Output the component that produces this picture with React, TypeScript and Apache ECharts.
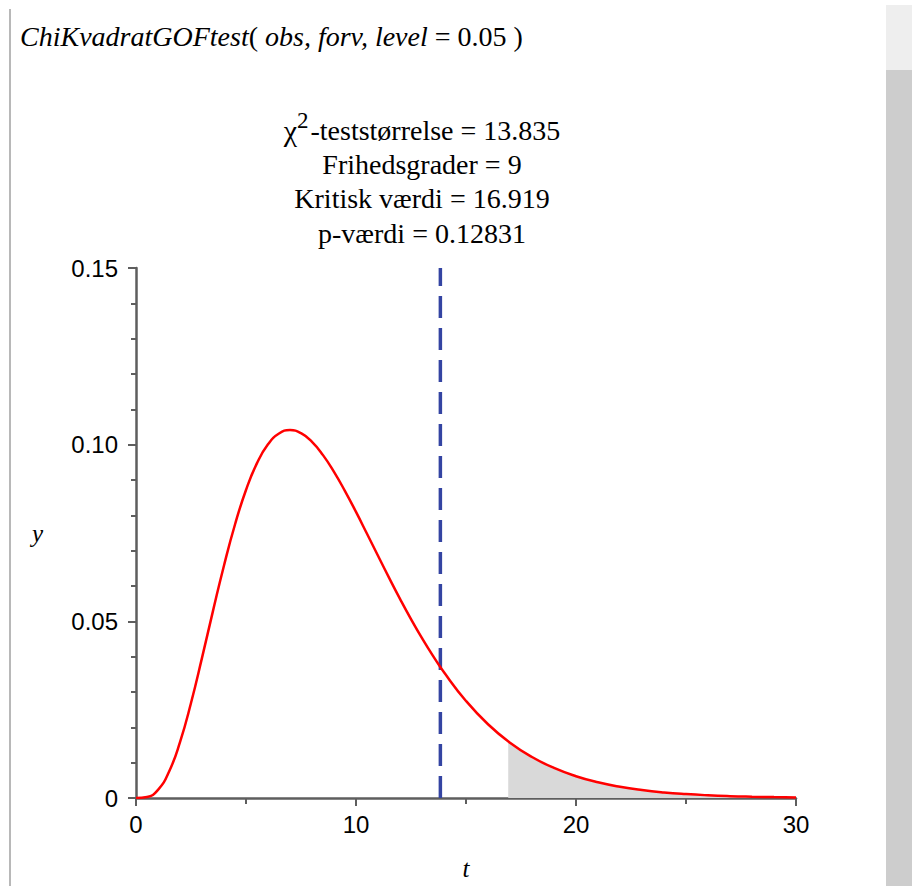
import React, { useEffect, useRef } from "react";
import * as echarts from "echarts";

// Chi-square density (df = 9)
const tValues = [0, 0.5, 1, 1.5, 2, 2.5, 3, 3.5, 4, 4.5, 5, 5.5, 6, 6.5, 7, 7.5, 8, 8.5, 9, 9.5, 10, 10.5, 11, 11.5, 12, 12.5, 13, 13.5, 14, 15, 16, 17, 18, 19, 20, 21, 22, 23, 24, 25, 26, 27, 28, 29, 30];
const densityValues = [0, 0.00026, 0.0023, 0.00742, 0.01581, 0.02689, 0.03965, 0.05296, 0.06582, 0.07741, 0.08717, 0.09477, 0.10009, 0.10315, 0.10412, 0.10324, 0.10078, 0.09704, 0.09231, 0.08686, 0.08096, 0.07479, 0.06855, 0.06237, 0.05638, 0.05065, 0.04525, 0.04022, 0.03557, 0.02747, 0.02088, 0.01566, 0.0116, 0.0085, 0.00617, 0.00444, 0.00317, 0.00225, 0.00158, 0.00111, 0.00077, 0.00053, 0.00037, 0.00025, 0.00017];

// Rejection region (shaded tail)
const tailT = [16.919, 17, 18, 19, 20, 21, 22, 23, 24, 25, 26, 27, 28, 29, 30];
const tailDensity = [0.01604, 0.01566, 0.0116, 0.0085, 0.00617, 0.00444, 0.00317, 0.00225, 0.00158, 0.00111, 0.00077, 0.00053, 0.00037, 0.00025, 0.00017];

const testStatistic = 13.835;
const statLineY = [0, 0.15];

const xTickLabels: Record<string, string> = { "0": "0", "10": "10", "20": "20", "30": "30" };
const yTickLabels: Record<string, string> = { "0": "0", "0.05": "0.05", "0.1": "0.10", "0.15": "0.15" };

const titleLine1 = "{chi|χ}{sup|2}{n|-teststørrelse = 13.835}";
const titleLines = ["Frihedsgrader = 9", "Kritisk værdi = 16.919", "p-værdi = 0.12831"];
const commandText = "{i|ChiKvadratGOFtest}{n|( }{i|obs, forv, level}{n| = 0.05 )}";

export default function App() {
  const ref = useRef<HTMLDivElement>(null);
  useEffect(() => {
    if (!ref.current) return;
    const chart = echarts.init(ref.current, undefined, { renderer: "svg" });
    const serif = "'Liberation Serif', 'Times New Roman', serif";
    const sans = "'Liberation Sans', Arial, sans-serif";
    const axisColor = "#5e5e5e";
    chart.setOption({
      animation: false,
      backgroundColor: "#ffffff",
      grid: { left: 136, right: 116, top: 268, bottom: 87 },
      xAxis: {
        type: "value",
        min: 0,
        max: 30,
        interval: 10,
        name: "t",
        nameLocation: "middle",
        nameGap: 58,
        nameTextStyle: { fontFamily: serif, fontStyle: "italic", fontSize: 25, color: "#000" },
        axisLine: { onZero: false, lineStyle: { color: axisColor, width: 2.5 } },
        axisTick: { show: true, inside: false, length: 8, lineStyle: { color: axisColor, width: 2 } },
        minorTick: { show: true, splitNumber: 2, length: 6, lineStyle: { color: axisColor, width: 2 } },
        splitLine: { show: false },
        axisLabel: {
          margin: 14,
          fontFamily: sans,
          fontSize: 24,
          color: "#000",
          formatter: (v: number) => xTickLabels[String(v)] ?? "",
        },
      },
      yAxis: {
        type: "value",
        min: 0,
        max: 0.15,
        interval: 0.05,
        name: "y",
        nameLocation: "middle",
        nameGap: 93,
        nameRotate: 0,
        nameTextStyle: { fontFamily: serif, fontStyle: "italic", fontSize: 25, color: "#000" },
        axisLine: { show: true, onZero: false, lineStyle: { color: axisColor, width: 2.5 } },
        axisTick: { show: true, inside: false, length: 8, lineStyle: { color: axisColor, width: 2 } },
        minorTick: { show: true, splitNumber: 5, length: 5, lineStyle: { color: axisColor, width: 2 } },
        splitLine: { show: false },
        axisLabel: {
          margin: 18,
          fontFamily: sans,
          fontSize: 24,
          color: "#000",
          formatter: (v: number) => yTickLabels[String(Math.round(v * 100) / 100)] ?? "",
        },
      },
      series: [
        {
          type: "line",
          data: tailT.map((t, i) => [t, tailDensity[i]]),
          smooth: true,
          symbol: "none",
          lineStyle: { width: 0, opacity: 0 },
          areaStyle: { color: "#d9d9d9", opacity: 1 },
          z: 1,
        },
        {
          type: "line",
          data: statLineY.map((y) => [testStatistic, y]),
          symbol: "none",
          lineStyle: { color: "#3444a2", width: 3.5, type: [22, 10] },
          z: 2,
        },
        {
          type: "line",
          data: tValues.map((t, i) => [t, densityValues[i]]),
          smooth: true,
          symbol: "none",
          lineStyle: { color: "#ff0000", width: 2.5 },
          z: 3,
        },
      ],
      graphic: [
        { type: "rect", shape: { x: 9, y: 9, width: 2, height: 877 }, style: { fill: "#b8b8b8" }, silent: true },
        { type: "rect", shape: { x: 886, y: 5, width: 26, height: 65 }, style: { fill: "#eeeeee" }, silent: true },
        { type: "rect", shape: { x: 886, y: 70, width: 26, height: 816 }, style: { fill: "#cdcdcd" }, silent: true },
        {
          type: "text",
          x: 20,
          y: 36,
          style: {
            text: commandText,
            verticalAlign: "middle",
            rich: {
              i: { fontFamily: serif, fontStyle: "italic", fontSize: 28, fill: "#000" },
              n: { fontFamily: serif, fontSize: 28, fill: "#000" },
            },
          },
        },
        {
          type: "text",
          x: 422,
          y: 130,
          style: {
            text: titleLine1,
            align: "center",
            verticalAlign: "middle",
            rich: {
              chi: { fontFamily: serif, fontSize: 30, fill: "#000" },
              sup: { fontFamily: serif, fontSize: 23, fill: "#000", verticalAlign: "top", padding: [0, 2, 20, 0] },
              n: { fontFamily: serif, fontSize: 28, fill: "#000" },
            },
          },
        },
        ...titleLines.map((line, i) => ({
          type: "text",
          x: 422,
          y: 164 + i * 34.5,
          style: {
            text: line,
            align: "center",
            verticalAlign: "middle",
            fontFamily: serif,
            fontSize: 28,
            fill: "#000",
          },
        })),
      ],
    });
    return () => chart.dispose();
  }, []);
  return <div ref={ref} style={{ position: "absolute", left: 0, top: 0, width: 912, height: 886 }} />;
}
